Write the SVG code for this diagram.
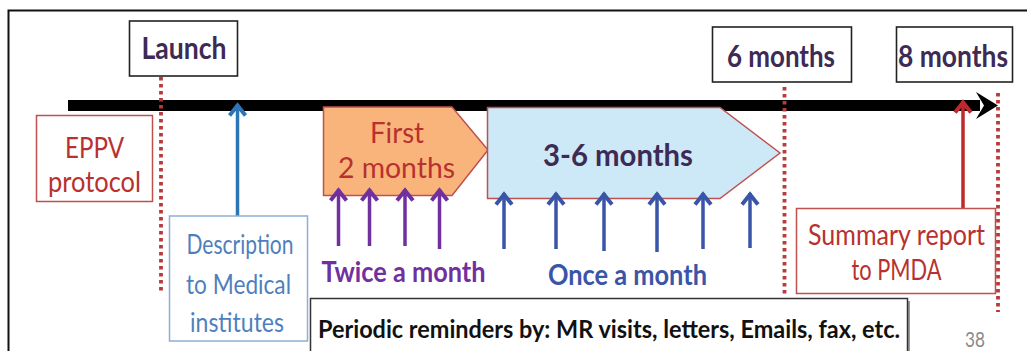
<svg xmlns="http://www.w3.org/2000/svg" width="1027" height="351" viewBox="0 0 1027 351">
  <defs>
    <style>
      text { font-family: Lato, "Open Sans", "Liberation Sans", sans-serif; text-anchor: middle; }
      .dark { fill: #3d2a55; font-weight: bold; font-size: 31px; }
      .red { fill: #b8312f; font-size: 28px; }
      .blue { fill: #4f7fbd; font-size: 27px; }
      .purple { fill: #7030a0; font-weight: bold; font-size: 29px; }
      .navy { fill: #3a55a8; font-weight: bold; font-size: 29px; }
      .box { fill: #ffffff; stroke: #222222; stroke-width: 1.6; }
      .redbox { fill: #ffffff; stroke: #c0504d; stroke-width: 1.5; }
      .dots { stroke: #b83a3a; stroke-width: 3.8; stroke-dasharray: 3.5 3.5; fill: none; }
      .parrow { stroke: #7030a0; stroke-width: 3.5; fill: none; }
      .barrow { stroke: #3a55a8; stroke-width: 3.5; fill: none; }
    </style>
    <!-- chevron heads drawn pointing along +x, tip at the origin -->
    <marker id="headP" viewBox="-14 -10 16 20" refX="0" refY="0" markerWidth="16" markerHeight="20" markerUnits="userSpaceOnUse" orient="auto">
      <path d="M-11.5,-8 L-1.5,0 L-11.5,8" fill="none" stroke="#7030a0" stroke-width="4"/>
    </marker>
    <marker id="headB" viewBox="-14 -10 16 20" refX="0" refY="0" markerWidth="16" markerHeight="20" markerUnits="userSpaceOnUse" orient="auto">
      <path d="M-11.5,-8 L-1.5,0 L-11.5,8" fill="none" stroke="#3a55a8" stroke-width="4"/>
    </marker>
    <marker id="headL" viewBox="-14 -10 16 20" refX="0" refY="0" markerWidth="16" markerHeight="20" markerUnits="userSpaceOnUse" orient="auto">
      <path d="M-11.5,-8 L-1.5,0 L-11.5,8" fill="none" stroke="#2e75b6" stroke-width="4"/>
    </marker>
    <marker id="headR" viewBox="-14 -10 16 20" refX="0" refY="0" markerWidth="16" markerHeight="20" markerUnits="userSpaceOnUse" orient="auto">
      <path d="M-11.5,-8 L-1.5,0 L-11.5,8" fill="none" stroke="#c0282d" stroke-width="4"/>
    </marker>
  </defs>

  <rect width="1027" height="351" fill="#ffffff"/>
  <!-- outer frame -->
  <rect x="8.5" y="10.5" width="1030" height="360" fill="none" stroke="#111111" stroke-width="2"/>

  <!-- time axis -->
  <g id="axis">
    <rect x="68" y="100" width="912" height="11" fill="#000000"/>
    <path d="M976,92 L998,105.5 L976,119 L984,105.5 Z" fill="#000000"/>
  </g>

  <!-- phase bars -->
  <g id="phase-first">
    <path d="M323.5,107 H452 L488,150 L452,195.5 H323.5 Z" fill="#f9b47c" stroke="#c0504d" stroke-width="1.5"/>
    <text class="red" x="397" y="143" textLength="54" lengthAdjust="spacingAndGlyphs">First</text>
    <text class="red" x="396.5" y="178" textLength="117" lengthAdjust="spacingAndGlyphs">2 months</text>
  </g>
  <g id="phase-main">
    <path d="M487.5,107.5 H720 L780,153 L720,198.5 H487.5 Z" fill="#cde9f7" stroke="#c0504d" stroke-width="1.5"/>
    <text class="dark" x="618" y="166" textLength="150" lengthAdjust="spacingAndGlyphs">3-6 months</text>
  </g>

  <!-- milestone markers and reminder arrows -->
  <g id="connectors">
    <line class="dots" x1="161" y1="77" x2="161" y2="292"/>
    <line class="dots" x1="784.5" y1="87" x2="784.5" y2="295"/>
    <line class="dots" x1="998" y1="93" x2="998" y2="312"/>

    <line x1="237.5" y1="216" x2="237.5" y2="104" stroke="#2e75b6" stroke-width="3.5" marker-end="url(#headL)"/>
    <line x1="963" y1="208" x2="963" y2="101" stroke="#c0282d" stroke-width="3.5" marker-end="url(#headR)"/>

    <line class="parrow" x1="338.5" y1="246" x2="338.5" y2="189" marker-end="url(#headP)"/>
    <line class="parrow" x1="369.5" y1="246" x2="369.5" y2="189" marker-end="url(#headP)"/>
    <line class="parrow" x1="405" y1="246" x2="405" y2="189" marker-end="url(#headP)"/>
    <line class="parrow" x1="439.5" y1="249" x2="439.5" y2="189" marker-end="url(#headP)"/>

    <line class="barrow" x1="504" y1="249" x2="504" y2="193" marker-end="url(#headB)"/>
    <line class="barrow" x1="556" y1="249" x2="556" y2="193" marker-end="url(#headB)"/>
    <line class="barrow" x1="604" y1="251" x2="604" y2="193" marker-end="url(#headB)"/>
    <line class="barrow" x1="657" y1="252" x2="657" y2="193" marker-end="url(#headB)"/>
    <line class="barrow" x1="703" y1="249" x2="703" y2="193" marker-end="url(#headB)"/>
    <line class="barrow" x1="750" y1="248" x2="750" y2="193" marker-end="url(#headB)"/>
  </g>

  <g id="launch">
    <rect class="box" x="129.5" y="21" width="108" height="55"/>
    <text class="dark" x="184" y="59" textLength="85" lengthAdjust="spacingAndGlyphs">Launch</text>
  </g>
  <g id="month6">
    <rect class="box" x="712.5" y="27" width="139" height="55"/>
    <text class="dark" x="781" y="67" textLength="108" lengthAdjust="spacingAndGlyphs">6 months</text>
  </g>
  <g id="month8">
    <rect class="box" x="896.5" y="27" width="116" height="55"/>
    <text class="dark" x="953" y="67" textLength="110" lengthAdjust="spacingAndGlyphs">8 months</text>
  </g>

  <g id="eppv">
    <rect class="redbox" x="36.5" y="115.5" width="116" height="86"/>
    <text class="red" x="94.5" y="158" textLength="59" lengthAdjust="spacingAndGlyphs">EPPV</text>
    <text class="red" x="94.5" y="192" textLength="93" lengthAdjust="spacingAndGlyphs">protocol</text>
  </g>

  <g id="description">
    <rect x="169.5" y="216" width="138" height="125" fill="#ffffff" stroke="#8cb0d6" stroke-width="1.5"/>
    <text class="blue" x="240" y="254" textLength="107" lengthAdjust="spacingAndGlyphs">Description</text>
    <text class="blue" x="238.5" y="294" textLength="105" lengthAdjust="spacingAndGlyphs">to Medical</text>
    <text class="blue" x="237" y="332" textLength="94" lengthAdjust="spacingAndGlyphs">institutes</text>
  </g>

  <g id="twice">
    <text class="purple" x="403.5" y="282" textLength="164" lengthAdjust="spacingAndGlyphs">Twice a month</text>
  </g>
  <g id="once">
    <text class="navy" x="627.5" y="285" textLength="159" lengthAdjust="spacingAndGlyphs">Once a month</text>
  </g>

  <g id="summary">
    <rect class="redbox" x="796.5" y="208.5" width="199" height="85"/>
    <text class="red" x="896.5" y="245" textLength="177" lengthAdjust="spacingAndGlyphs">Summary report</text>
    <text class="red" x="896.5" y="280" textLength="90" lengthAdjust="spacingAndGlyphs">to PMDA</text>
  </g>

  <g id="reminders">
    <rect x="312" y="301" width="598" height="60" fill="#9a9a9a"/>
    <rect x="310.5" y="298.5" width="597" height="60" fill="#ffffff" stroke="#333333" stroke-width="1.5"/>
    <text x="609" y="338" style="font-size:25px; fill:#111111; font-weight:bold" textLength="582" lengthAdjust="spacingAndGlyphs">Periodic reminders by:  MR visits, letters, Emails, fax, etc.</text>
  </g>

  <text x="975" y="347" style="font-size:21px; fill:#8a8a8a" textLength="20" lengthAdjust="spacingAndGlyphs">38</text>
</svg>
